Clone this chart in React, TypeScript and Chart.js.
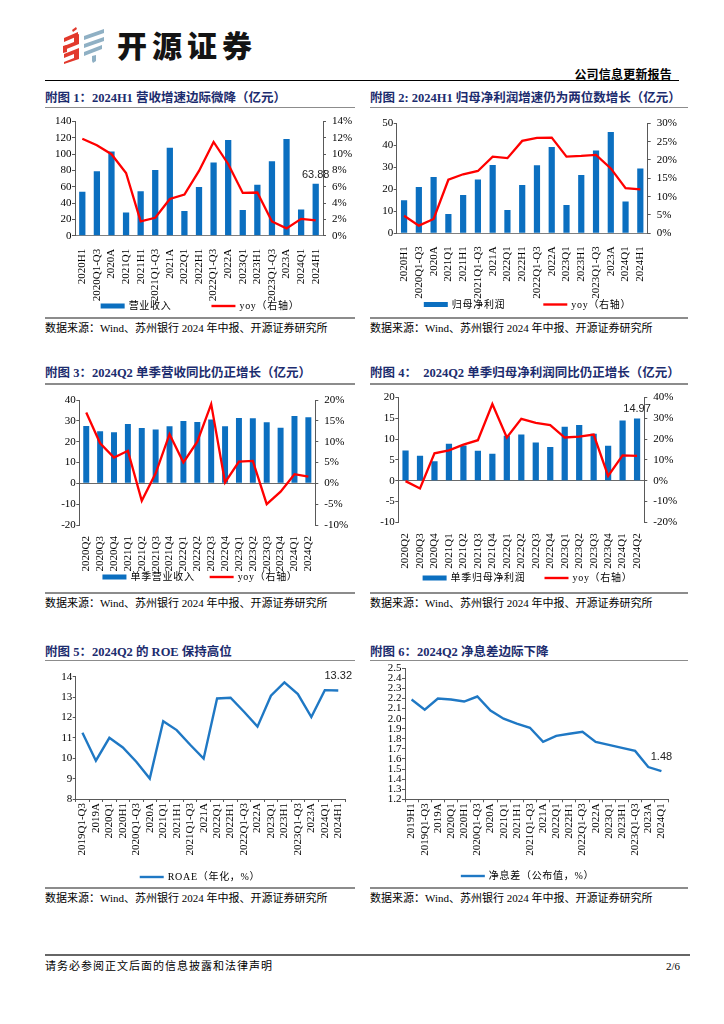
import React, { useEffect, useRef } from 'react';
import { Chart, registerables } from 'chart.js';

Chart.register(...registerables);

const SERIF = "'Liberation Serif', 'Noto Sans CJK SC', serif";
const SANS = "'Liberation Sans', 'Noto Sans', sans-serif";
const CJK = "'Noto Sans CJK SC', sans-serif";
const BAR_BLUE = '#0B6FC0';
const RED = '#FF0000';
const LINE_BLUE = '#1F78C4';
const NAVY = '#1C2C6E';
const AXIS = '#595959';

// ---------- data ----------
const cumLabels = ['2020H1', '2020Q1-Q3', '2020A', '2021Q1', '2021H1', '2021Q1-Q3', '2021A', '2022Q1', '2022H1', '2022Q1-Q3', '2022A', '2023Q1', '2023H1', '2023Q1-Q3', '2023A', '2024Q1', '2024H1'];
const revenue = [54.0, 79.0, 103.4, 28.6, 54.5, 80.7, 108.0, 30.2, 59.7, 89.9, 117.3, 31.4, 62.4, 91.5, 118.5, 32.2, 63.88];
const revenueYoy = [11.9, 11.1, 10.0, 7.7, 1.75, 2.2, 4.5, 5.05, 7.95, 11.5, 8.8, 5.25, 5.3, 1.75, 0.9, 2.07, 1.87];

const netProfit = [15.0, 21.1, 25.6, 8.8, 17.4, 24.5, 31.1, 10.6, 22.0, 30.9, 39.2, 12.9, 26.5, 37.6, 46.1, 14.5, 29.5];
const netProfitYoy = [4.8, 2.1, 3.9, 14.6, 16.1, 17.0, 20.9, 20.5, 25.2, 26.0, 26.1, 20.9, 21.1, 21.4, 17.7, 12.3, 12.0];

const quarterLabels = ['2020Q2', '2020Q3', '2020Q4', '2021Q1', '2021Q2', '2021Q3', '2021Q4', '2022Q1', '2022Q2', '2022Q3', '2022Q4', '2023Q1', '2023Q2', '2023Q3', '2023Q4', '2024Q1', '2024Q2'];
const qRevenue = [27.5, 25.0, 24.5, 28.5, 26.6, 25.9, 27.4, 29.9, 29.4, 30.7, 27.4, 31.4, 31.2, 29.3, 26.7, 32.3, 31.7];
const qRevenueYoy = [17.0, 9.6, 6.2, 7.8, -4.2, 2.4, 11.8, 5.0, 10.0, 19.0, 0.2, 5.2, 5.4, -5.0, -2.0, 2.2, 1.6];

const qProfit = [7.3, 6.0, 4.7, 8.9, 8.5, 7.2, 6.5, 10.8, 11.1, 9.2, 8.1, 13.0, 13.4, 11.3, 8.4, 14.5, 14.97];
const qProfitYoy = [-0.2, -3.7, 13.2, 14.6, 17.4, 19.5, 36.9, 20.8, 29.8, 27.8, 26.8, 20.8, 21.2, 22.2, 2.3, 12.2, 12.0];

const roeLabels = ['2019Q1-Q3', '2019A', '2020Q1', '2020H1', '2020Q1-Q3', '2020A', '2021Q1', '2021H1', '2021Q1-Q3', '2021A', '2022Q1', '2022H1', '2022Q1-Q3', '2022A', '2023Q1', '2023H1', '2023Q1-Q3', '2023A', '2024Q1', '2024H1'];
const roeValues = [11.25, 9.88, 11.0, 10.53, 9.83, 9.0, 11.82, 11.38, 10.66, 9.98, 12.93, 12.97, 12.28, 11.55, 13.07, 13.72, 13.15, 12.02, 13.34, 13.32];

const nimLabels = ['2019H1', '2019Q1-Q3', '2019A', '2020Q1', '2020H1', '2020Q1-Q3', '2020A', '2021Q1', '2021H1', '2021Q1-Q3', '2021A', '2022Q1', '2022H1', '2022Q1-Q3', '2022A', '2023Q1', '2023H1', '2023Q1-Q3', '2023A', '2024Q1'];
const nimValues = [2.19, 2.09, 2.20, 2.19, 2.17, 2.22, 2.08, 2.00, 1.95, 1.91, 1.77, 1.83, 1.85, 1.87, 1.77, 1.74, 1.71, 1.68, 1.52, 1.48];

const SOURCE = '数据来源：Wind、苏州银行 2024 年中报、开源证券研究所';

// ---------- plugins ----------
const bottomLegend = {
  id: 'bottomLegend',
  afterDraw(chart: any, _args: any, opts: any) {
    if (!opts || opts.y == null) return;
    const ctx = chart.ctx;
    const ds = chart.data.datasets;
    ctx.save();
    ctx.font = `10px ${SERIF}`;
    (ctx as any).letterSpacing = '0.7px';
    const boxW = opts.boxW ?? 24;
    const textGap = 4;
    const itemGap = opts.gap ?? 40;
    const widths = ds.map((d: any) => boxW + textGap + ctx.measureText(d.label).width);
    const total = widths.reduce((a: number, b: number) => a + b, 0) + itemGap * (ds.length - 1);
    let x = chart.width / 2 - total / 2 + (opts.dx || 0);
    const y = opts.y;
    ds.forEach((d: any, i: number) => {
      if (d.type === 'bar') {
        ctx.fillStyle = d.backgroundColor;
        ctx.fillRect(x, y - 2.5, boxW, 5);
      } else {
        ctx.strokeStyle = d.borderColor;
        ctx.lineWidth = 2.4;
        ctx.beginPath();
        ctx.moveTo(x, y);
        ctx.lineTo(x + boxW, y);
        ctx.stroke();
      }
      ctx.fillStyle = '#000';
      ctx.textBaseline = 'middle';
      ctx.textAlign = 'left';
      ctx.fillText(d.label, x + boxW + textGap, y + 0.5);
      x += widths[i] + itemGap;
    });
    ctx.restore();
  },
};

const valueLabel = {
  id: 'valueLabel',
  afterDatasetsDraw(chart: any, _args: any, opts: any) {
    if (!opts || opts.datasetIndex == null) return;
    const meta = chart.getDatasetMeta(opts.datasetIndex);
    const data = chart.data.datasets[opts.datasetIndex].data;
    const idx = opts.index ?? data.length - 1;
    const el = meta.data[idx];
    if (!el) return;
    const ctx = chart.ctx;
    ctx.save();
    ctx.font = `11px ${SANS}`;
    ctx.fillStyle = '#222';
    ctx.textAlign = 'center';
    ctx.textBaseline = 'alphabetic';
    ctx.fillText(String(data[idx]), el.x, el.y - opts.dy);
    ctx.restore();
  },
};

type Box = { x: number; y: number; w: number; h: number };
type Plot = { l: number; r: number; t: number; b: number };

const tickFont = { family: SERIF, size: 11 };

function dualConfig(o: {
  box: Box; plot: Plot; labels: string[]; bars: number[]; line: number[];
  barLabel: string; lineLabel: string;
  y: [number, number, number]; y1: [number, number, number];
  zeroLine: boolean; barPct: number; legendY: number; gap: number; label?: number;
}) {
  const { box, plot } = o;
  const yW = plot.l - box.x;
  const y1W = box.x + box.w - plot.r;
  const padTop = plot.t - box.y;
  const xH = box.y + box.h - plot.b;
  return {
    type: 'bar',
    data: {
      labels: o.labels,
      datasets: [
        { type: 'bar', label: o.barLabel, data: o.bars, backgroundColor: BAR_BLUE, borderWidth: 0, yAxisID: 'y', order: 2, categoryPercentage: 1, barPercentage: o.barPct },
        { type: 'line', label: o.lineLabel, data: o.line, borderColor: RED, backgroundColor: RED, borderWidth: 2.3, pointRadius: 0, tension: 0, yAxisID: 'y1', order: 1 },
      ],
    },
    options: {
      animation: false,
      responsive: true,
      maintainAspectRatio: false,
      layout: { padding: { top: padTop, left: 0, right: 0, bottom: 0 } },
      plugins: {
        legend: { display: false },
        tooltip: { enabled: false },
        bottomLegend: { y: o.legendY - box.y, gap: o.gap },
        valueLabel: o.label != null ? { datasetIndex: 0, dy: o.label } : {},
      },
      scales: {
        x: {
          type: 'category',
          offset: true,
          grid: { display: false },
          border: { display: !o.zeroLine, color: '#808080', width: 1 },
          ticks: { autoSkip: false, maxRotation: 90, minRotation: 90, padding: o.zeroLine ? 3 : 5, font: tickFont, color: '#000' },
          afterFit: (s: any) => { s.height = xH; },
        },
        y: {
          position: 'left',
          min: o.y[0], max: o.y[1],
          ticks: { stepSize: o.y[2], autoSkip: false, padding: 0.5, font: tickFont, color: '#000' },
          grid: {
            drawOnChartArea: o.zeroLine,
            drawTicks: true,
            tickLength: 3,
            color: (c: any) => (o.zeroLine && c.tick && c.tick.value === 0 ? '#6a6a6a' : 'rgba(0,0,0,0)'),
            tickColor: AXIS,
          },
          border: { display: true, color: AXIS, width: 1 },
          afterFit: (s: any) => { s.width = yW; },
        },
        y1: {
          position: 'right',
          min: o.y1[0], max: o.y1[1],
          ticks: { stepSize: o.y1[2], autoSkip: false, padding: 6, font: tickFont, color: '#000', callback: (v: any) => v + '%' },
          grid: { drawOnChartArea: false, drawTicks: true, tickLength: 3, color: AXIS },
          border: { display: true, color: AXIS, width: 1 },
          afterFit: (s: any) => { s.width = y1W; },
        },
      },
    },
    plugins: [bottomLegend, valueLabel],
  };
}

function lineConfig(o: {
  box: Box; plot: Plot; labels: string[]; values: number[]; label: string;
  y: [number, number, number]; decimals: number; legendY: number; dy: number;
}) {
  const { box, plot } = o;
  const yW = plot.l - box.x;
  const rightPad = box.x + box.w - plot.r;
  const padTop = plot.t - box.y;
  const xH = box.y + box.h - plot.b;
  return {
    type: 'line',
    data: {
      labels: o.labels,
      datasets: [
        { type: 'line', label: o.label, data: o.values, borderColor: LINE_BLUE, backgroundColor: LINE_BLUE, borderWidth: 2.4, pointRadius: 0, tension: 0 },
      ],
    },
    options: {
      animation: false,
      responsive: true,
      maintainAspectRatio: false,
      layout: { padding: { top: padTop, left: 0, right: rightPad, bottom: 0 } },
      plugins: {
        legend: { display: false },
        tooltip: { enabled: false },
        bottomLegend: { y: o.legendY - box.y, gap: 30, boxW: 24 },
        valueLabel: { datasetIndex: 0, dy: o.dy },
      },
      scales: {
        x: {
          type: 'category',
          offset: true,
          grid: { display: true, offset: true, drawOnChartArea: false, drawTicks: true, tickLength: 3, color: AXIS },
          border: { display: true, color: AXIS, width: 1 },
          ticks: { autoSkip: false, maxRotation: 90, minRotation: 90, padding: 1, font: tickFont, color: '#000' },
          afterFit: (s: any) => { s.height = xH; },
        },
        y: {
          position: 'left',
          min: o.y[0], max: o.y[1],
          ticks: {
            stepSize: o.y[2], autoSkip: false, padding: 0.5, font: tickFont, color: '#000',
            callback: (v: any) => Number(v).toFixed(o.decimals),
          },
          grid: { drawOnChartArea: false, drawTicks: true, tickLength: 3, color: AXIS },
          border: { display: true, color: AXIS, width: 1 },
          afterFit: (s: any) => { s.width = yW; },
        },
      },
    },
    plugins: [bottomLegend, valueLabel],
  };
}

function ChartCanvas({ box, make }: { box: Box; make: () => any }) {
  const ref = useRef<HTMLCanvasElement>(null);
  useEffect(() => {
    const chart = new Chart(ref.current as HTMLCanvasElement, make());
    return () => chart.destroy();
  }, []);
  return (
    <div style={{ position: 'absolute', left: box.x, top: box.y, width: box.w, height: box.h }}>
      <canvas ref={ref} />
    </div>
  );
}

function Text({ x, y, size, children, weight, color, family, right, spacing }: any) {
  const style: any = {
    position: 'absolute',
    top: y - size / 2 - 1,
    fontSize: size,
    lineHeight: `${size + 2}px`,
    fontWeight: weight || 400,
    color: color || '#000',
    fontFamily: family || SERIF,
    whiteSpace: 'pre',
    letterSpacing: spacing || 0,
  };
  if (right != null) style.right = right; else style.left = x;
  return <div style={style}>{children}</div>;
}

function HLine({ x1, x2, y, w, color }: any) {
  return <div style={{ position: 'absolute', left: x1, top: y - w / 2, width: x2 - x1, height: w, background: color }} />;
}

function Logo() {
  const red = '#E2392C';
  const blue = '#8FB0C4';
  return (
    <svg style={{ position: 'absolute', left: 62, top: 27 }} width={44} height={37} viewBox="0 0 44 37">
      <polygon points="10,3 14,0 15,2 11,5" fill={red} />
      <polygon points="2,11 16,5 16,9 2,15" fill={red} />
      <polygon points="12,9 17,7 17,15 12,17" fill={red} />
      <polygon points="2,19 17,13 17,17 2,23" fill={red} />
      <polygon points="1,19 5,18 5,25 1,26" fill={red} />
      <polygon points="2,27 17,21 17,25 2,31" fill={red} />
      <polygon points="12,25 17,23 17,30 12,32" fill={red} />
      <polygon points="2,35 17,29 17,32 2,37" fill={red} />
      <polygon points="22,9 42,2 42,6 22,13" fill={blue} />
      <polygon points="22,17 42,10 42,14 22,21" fill={blue} />
      <polygon points="22,25 40,18 40,22 22,29" fill={blue} />
      <polygon points="30,29 34,28 34,34 31,36 30,34" fill={blue} />
    </svg>
  );
}

const box1: Box = { x: 40, y: 109, w: 320, h: 208 };
const plot1: Plot = { l: 75, r: 323, t: 118.3, b: 235.7 };
const box2: Box = { x: 365, y: 109, w: 325, h: 208 };
const plot2: Plot = { l: 396.7, r: 647.7, t: 123.3, b: 233.3 };
const box3: Box = { x: 40, y: 386, w: 320, h: 205 };
const plot3: Plot = { l: 79.3, r: 315.3, t: 400, b: 525 };
const box4: Box = { x: 365, y: 385, w: 325, h: 206 };
const plot4: Plot = { l: 398.3, r: 644.3, t: 392.3, b: 522.3 };
const box5: Box = { x: 40, y: 662, w: 320, h: 224 };
const plot5: Plot = { l: 75.7, r: 345, t: 676.7, b: 799 };
const box6: Box = { x: 365, y: 661, w: 325, h: 225 };
const plot6: Plot = { l: 405, r: 668, t: 668.3, b: 799.3 };

export default function App() {
  return (
    <div style={{ position: 'absolute', left: 0, top: 0, width: 724, height: 1024, background: '#fff', overflow: 'hidden' }}>
      <Logo />
      <div style={{ position: 'absolute', left: 117, top: 28, fontSize: 30, lineHeight: '32px', fontWeight: 900, fontFamily: CJK, letterSpacing: 5, color: '#141414' }}>开源证券</div>
      <Text right={52} y={73.5} size={12} weight={700} family={CJK} spacing={0.2}>公司信息更新报告</Text>
      <HLine x1={45} x2={679} y={80.7} w={1.5} color="#000" />

      {/* row 1 */}
      <Text x={45} y={98} size={12.5} weight={700} color={NAVY}>附图 1：2024H1 营收增速边际微降（亿元）</Text>
      <Text x={370} y={98} size={12.5} weight={700} color={NAVY}>附图 2: 2024H1 归母净利润增速仍为两位数增长（亿元）</Text>
      <HLine x1={45} x2={355} y={107.7} w={1.5} color="#8c8c8c" />
      <HLine x1={370} x2={688} y={107.7} w={1.5} color="#8c8c8c" />
      <ChartCanvas box={box1} make={() => dualConfig({
        box: box1, plot: plot1, labels: cumLabels, bars: revenue, line: revenueYoy,
        barLabel: '营业收入', lineLabel: 'yoy（右轴）', y: [0, 140, 20], y1: [0, 14, 2],
        zeroLine: false, barPct: 0.43, legendY: 306, gap: 40, label: 6,
      })} />
      <ChartCanvas box={box2} make={() => dualConfig({
        box: box2, plot: plot2, labels: cumLabels, bars: netProfit, line: netProfitYoy,
        barLabel: '归母净利润', lineLabel: 'yoy（右轴）', y: [0, 50, 10], y1: [0, 30, 5],
        zeroLine: false, barPct: 0.42, legendY: 304.5, gap: 38,
      })} />
      <HLine x1={45} x2={355} y={318} w={1.2} color="#8c8c8c" />
      <HLine x1={370} x2={688} y={318} w={1.2} color="#8c8c8c" />
      <Text x={45} y={328} size={11}>{SOURCE}</Text>
      <Text x={370} y={328} size={11}>{SOURCE}</Text>

      {/* row 2 */}
      <Text x={45} y={373.5} size={12.5} weight={700} color={NAVY}>附图 3：2024Q2 单季营收同比仍正增长（亿元）</Text>
      <Text x={370} y={373.5} size={12.5} weight={700} color={NAVY}>附图 4：  2024Q2 单季归母净利润同比仍正增长（亿元）</Text>
      <HLine x1={45} x2={355} y={384} w={1.5} color="#8c8c8c" />
      <HLine x1={370} x2={688} y={384} w={1.5} color="#8c8c8c" />
      <ChartCanvas box={box3} make={() => dualConfig({
        box: box3, plot: plot3, labels: quarterLabels, bars: qRevenue, line: qRevenueYoy,
        barLabel: '单季营业收入', lineLabel: 'yoy（右轴）', y: [-20, 40, 10], y1: [-10, 20, 5],
        zeroLine: true, barPct: 0.43, legendY: 577, gap: 15,
      })} />
      <ChartCanvas box={box4} make={() => dualConfig({
        box: box4, plot: plot4, labels: quarterLabels, bars: qProfit, line: qProfitYoy,
        barLabel: '单季归母净利润', lineLabel: 'yoy（右轴）', y: [-10, 20, 5], y1: [-20, 40, 10],
        zeroLine: true, barPct: 0.43, legendY: 578, gap: 19, label: 7,
      })} />
      <HLine x1={45} x2={355} y={593} w={1.2} color="#8c8c8c" />
      <HLine x1={370} x2={688} y={593} w={1.2} color="#8c8c8c" />
      <Text x={45} y={603} size={11}>{SOURCE}</Text>
      <Text x={370} y={603} size={11}>{SOURCE}</Text>

      {/* row 3 */}
      <Text x={45} y={652.3} size={12.5} weight={700} color={NAVY}>附图 5：2024Q2 的 ROE 保持高位</Text>
      <Text x={370} y={652.3} size={12.5} weight={700} color={NAVY}>附图 6：2024Q2 净息差边际下降</Text>
      <HLine x1={45} x2={355} y={660.7} w={1.5} color="#8c8c8c" />
      <HLine x1={370} x2={688} y={660.7} w={1.5} color="#8c8c8c" />
      <ChartCanvas box={box5} make={() => lineConfig({
        box: box5, plot: plot5, labels: roeLabels, values: roeValues, label: 'ROAE（年化，%）',
        y: [8, 14, 1], decimals: 0, legendY: 877, dy: 12,
      })} />
      <ChartCanvas box={box6} make={() => lineConfig({
        box: box6, plot: plot6, labels: nimLabels, values: nimValues, label: '净息差（公布值，%）',
        y: [1.2, 2.5, 0.1], decimals: 1, legendY: 876, dy: 11,
      })} />
      <HLine x1={45} x2={355} y={888} w={1.2} color="#8c8c8c" />
      <HLine x1={370} x2={688} y={888} w={1.2} color="#8c8c8c" />
      <Text x={45} y={898} size={11}>{SOURCE}</Text>
      <Text x={370} y={898} size={11}>{SOURCE}</Text>

      {/* footer */}
      <HLine x1={45} x2={690} y={955} w={2} color="#666" />
      <Text x={45} y={966} size={11} spacing={1}>请务必参阅正文后面的信息披露和法律声明</Text>
      <Text right={44} y={966} size={11}>2/6</Text>
    </div>
  );
}
